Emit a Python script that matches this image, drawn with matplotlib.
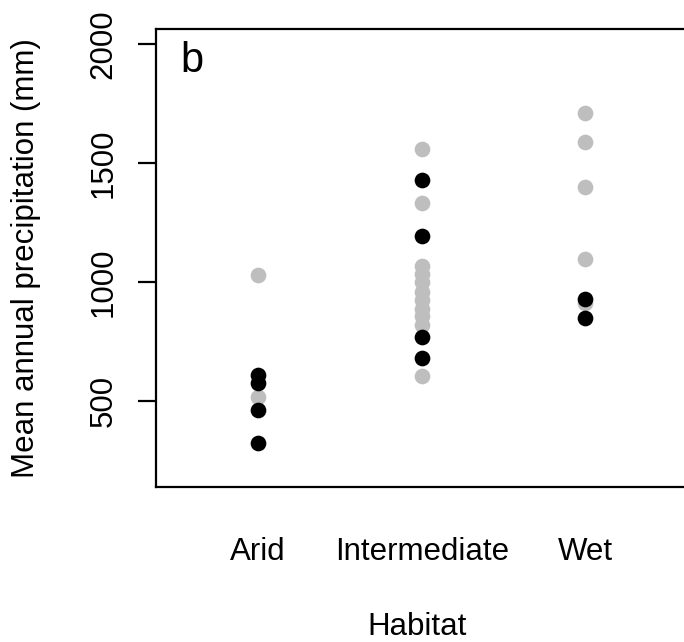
import matplotlib
matplotlib.use('Agg')
import matplotlib.pyplot as plt

plt.rcParams['font.family'] = ['Liberation Sans', 'DejaVu Sans']

# data
habitats = ['Arid', 'Intermediate', 'Wet']
grey_vals = [
    [1030, 518],
    [1560, 1331, 1068, 1035, 1000, 960, 925, 888, 855, 820, 606],
    [1710, 1590, 1399, 1096, 910],
]
black_vals = [
    [609, 574, 462, 322],
    [1429, 1194, 768, 680],
    [928, 848],
]
yticks = [500, 1000, 1500, 2000]

W, H = 684, 642
fig = plt.figure(figsize=(W / 100, H / 100), dpi=100)
# plot box runs past the right edge of the image, as in the original
ax = fig.add_axes([156 / W, (H - 487) / H, 531.4 / W, (487 - 29) / H])

fs = 22.5
for i, vals in enumerate(grey_vals):
    ax.plot([i + 1] * len(vals), vals, 'o', color='#BEBEBE', ms=11.3, mew=0)
for i, vals in enumerate(black_vals):
    ax.plot([i + 1] * len(vals), vals, 'o', color='black', ms=11.3, mew=0)

ax.set_xlim(0.375, 3.625)
ax.set_ylim(138, 2064)

ax.set_yticks(yticks)
ax.set_yticklabels([str(v) for v in yticks], rotation=90, va='center', fontsize=fs)
ax.tick_params(axis='y', direction='out', length=13, width=1.6, pad=14)

ax.set_xticks([1, 2, 3])
ax.set_xticklabels(habitats, fontsize=fs)
ax.tick_params(axis='x', length=0, pad=36)

for s in ax.spines.values():
    s.set_linewidth(1.6)

ax.text(0.045, 0.93, 'b', transform=ax.transAxes, fontsize=30, va='center', ha='left')

fig.text(26 / W, 1 - 258 / H, 'Mean annual precipitation (mm)', rotation=90,
         ha='center', va='center', fontsize=fs)
fig.text(417 / W, 1 - 627 / H, 'Habitat', ha='center', va='center', fontsize=fs)

fig.savefig('out.png', dpi=100)
